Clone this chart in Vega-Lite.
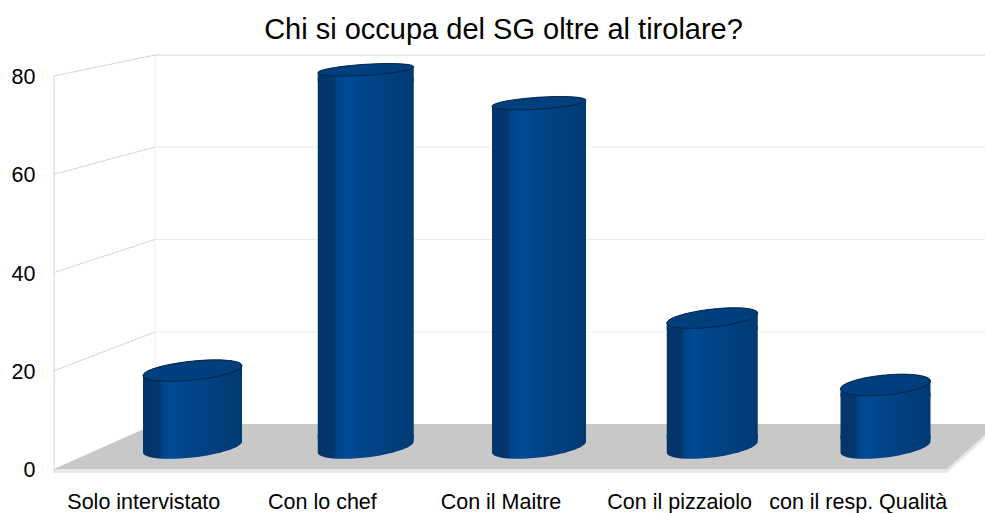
{
"$schema":"https://vega.github.io/schema/vega-lite/v6.json",
"width":893,"height":393,
"autosize":{"type":"none"},
"padding":{"left":54,"top":76,"right":38,"bottom":44},
"background":"white",
"config":{"view":{"stroke":null},"font":"Liberation Sans"},
"title":{"text":"Chi si occupa del SG oltre al tirolare?","font":"Liberation Sans","fontSize":29,"fontWeight":"normal","color":"#000000","offset":8,"dx":3},
"resolve":{"scale":{"x":"independent","y":"independent"},"axis":{"x":"independent","y":"independent"}},
"layer":[
{
 "encoding":{
  "x":{"field":"x","type":"quantitative","scale":{"domain":[0,5],"nice":false,"zero":false},
   "axis":{"values":[0.5,1.5,2.5,3.5,4.5],"labelExpr":"['Solo intervistato','Con lo chef','Con il Maitre','Con il pizzaiolo','con il resp. Qualità'][floor(datum.value)]","title":null,"grid":false,"domain":false,"ticks":false,"labelFontSize":21.5,"labelFont":"Liberation Sans","labelColor":"#000000","labelPadding":22,"labelAngle":0,"labelFlush":false,"labelBound":false,"labelOverlap":false}},
  "y":{"field":"y","type":"quantitative","scale":{"domain":[0,80],"nice":false,"zero":false},
   "axis":{"values":[0,20,40,60,80],"title":null,"grid":false,"domain":false,"ticks":false,"labelFontSize":21.5,"labelFont":"Liberation Sans","labelColor":"#000000","labelPadding":19,"labelOffset":1.5}}
 },
 "layer":[
  {"data":{"values":[
    {"x":0,"y":0,"y2":-0.75},{"x":5,"y":0,"y2":-0.75},{"x":5.213,"y":6.92,"y2":6.2}
   ]},
   "mark":{"type":"area","orient":"vertical","color":"#e8e8e8","clip":false},
   "encoding":{"y2":{"field":"y2"}}},
  {"data":{"values":[
    {"kind":"wall","line":"v0","x":0,"y":-0.75},{"kind":"wall","line":"v0","x":0,"y":80},
    {"kind":"back","line":"v1","x":0.566,"y":9.16},{"kind":"back","line":"v1","x":0.566,"y":84.27},
    {"kind":"wall","line":"d20","x":0,"y":20},{"kind":"wall","line":"d20","x":0.566,"y":27.89},
    {"kind":"wall","line":"d40","x":0,"y":40},{"kind":"wall","line":"d40","x":0.566,"y":46.72},
    {"kind":"wall","line":"d60","x":0,"y":60},{"kind":"wall","line":"d60","x":0.566,"y":65.55},
    {"kind":"wall","line":"d80","x":0,"y":80},{"kind":"wall","line":"d80","x":0.566,"y":84.27},
    {"kind":"back","line":"h20","x":0.566,"y":27.89},{"kind":"back","line":"h20","x":5.213,"y":27.89},
    {"kind":"back","line":"h40","x":0.566,"y":46.72},{"kind":"back","line":"h40","x":5.213,"y":46.72},
    {"kind":"back","line":"h60","x":0.566,"y":65.55},{"kind":"back","line":"h60","x":5.213,"y":65.55},
    {"kind":"wall","line":"h80","x":0.566,"y":84.27},{"kind":"wall","line":"h80","x":5.213,"y":84.27}
   ]},
   "mark":{"type":"line","strokeWidth":1,"clip":false},
   "encoding":{"detail":{"field":"line"},
    "color":{"field":"kind","type":"nominal","scale":{"domain":["wall","back"],"range":["#d6d6d6","#ececec"]},"legend":null}}},
  {"data":{"values":[
    {"x":0,"y":0,"y2":0},{"x":0.566,"y":9.16,"y2":0},{"x":5,"y":9.16,"y2":0},{"x":5.213,"y":9.16,"y2":6.92}
   ]},
   "mark":{"type":"area","orient":"vertical","color":"#c8c8c8","clip":false},
   "encoding":{"y2":{"field":"y2"}}}
 ]
},
{
 "data":{"values":[
  {"category":"Solo intervistato","value":16},
  {"category":"Con lo chef","value":79},
  {"category":"Con il Maitre","value":72},
  {"category":"Con il pizzaiolo","value":27},
  {"category":"con il resp. Qualità","value":13}
 ]},
 "encoding":{
  "x":{"field":"category","type":"nominal","sort":null,"scale":{"type":"point","range":[138.5,831.5],"padding":0},"axis":null},
  "y":{"field":"value","type":"quantitative","scale":{"domain":[-4.607,77.696],"nice":false,"zero":false},"axis":null}
 },
 "resolve":{"scale":{"shape":"independent"}},
 "layer":[
  {"mark":{"type":"point","filled":true,"opacity":1,"size":4,"fill":{"gradient":"linear","x1":0,"y1":0,"x2":1,"y2":0,"stops":[{"offset":0,"color":"#03346a"},{"offset":0.17,"color":"#03376e"},{"offset":0.19,"color":"#004385"},{"offset":0.3,"color":"#004a96"},{"offset":0.46,"color":"#00458a"},{"offset":1,"color":"#013a72"}]}},
   "encoding":{"y":{"datum":0},
    "shape":{"field":"category","type":"nominal","legend":null,"scale":{"domain":["Solo intervistato","Con lo chef","Con il Maitre","Con il pizzaiolo","con il resp. Qualità"],"range":[
     "M-49.5,-12 L49.5,-12 L49.5,-5.5 C49.5,0.3 27.34,7.46 0,10.5 C-27.34,13.54 -49.5,11.3 -49.5,5.5 Z",
     "M-48,-12 L48,-12 L48,-5.5 C48,0.3 26.51,7.46 0,10.5 C-26.51,13.54 -48,11.3 -48,5.5 Z",
     "M-47,-12 L47,-12 L47,-5.5 C47,0.3 25.96,7.46 0,10.5 C-25.96,13.54 -47,11.3 -47,5.5 Z",
     "M-45.5,-12 L45.5,-12 L45.5,-5.5 C45.5,0.3 25.13,7.46 0,10.5 C-25.13,13.54 -45.5,11.3 -45.5,5.5 Z",
     "M-45,-12 L45,-12 L45,-5.5 C45,0.3 24.85,7.46 0,10.5 C-24.85,13.54 -45,11.3 -45,5.5 Z"
    ]}}}},
  {"mark":{"type":"bar","yOffset":8,"y2Offset":-8,"fill":{"gradient":"linear","x1":0,"y1":0,"x2":1,"y2":0,"stops":[{"offset":0,"color":"#03346a"},{"offset":0.17,"color":"#03376e"},{"offset":0.19,"color":"#004385"},{"offset":0.3,"color":"#004a96"},{"offset":0.46,"color":"#00458a"},{"offset":1,"color":"#013a72"}]}},
   "encoding":{"y2":{"datum":0},
    "size":{"field":"category","type":"nominal","legend":null,"scale":{"type":"ordinal","domain":["Solo intervistato","Con lo chef","Con il Maitre","Con il pizzaiolo","con il resp. Qualità"],"range":[99,96,94,91,90]}}}},
  {"mark":{"type":"point","filled":true,"opacity":1,"size":4,"fill":{"gradient":"linear","x1":0,"y1":0,"x2":1,"y2":0,"stops":[{"offset":0,"color":"#03346a"},{"offset":0.17,"color":"#03376e"},{"offset":0.19,"color":"#004385"},{"offset":0.3,"color":"#004a96"},{"offset":0.46,"color":"#00458a"},{"offset":1,"color":"#013a72"}]}},
   "encoding":{
    "shape":{"field":"category","type":"nominal","legend":null,"scale":{"domain":["Solo intervistato","Con lo chef","Con il Maitre","Con il pizzaiolo","con il resp. Qualità"],"range":[
     "M-49.5,5 C-49.5,-0.25 -27.34,-6.74 0,-9.5 C27.34,-12.26 49.5,-10.25 49.5,-5 L49.5,12 L-49.5,12 Z",
     "M-48,3 C-48,-0.04 -26.51,-3.84 0,-5.5 C26.51,-7.16 48,-6.04 48,-3 L48,12 L-48,12 Z",
     "M-47,3 C-47,-0.31 -25.96,-4.34 0,-6 C25.96,-7.66 47,-6.31 47,-3 L47,12 L-47,12 Z",
     "M-45.5,5 C-45.5,0.03 -25.13,-6.24 0,-9 C25.13,-11.76 45.5,-9.97 45.5,-5 L45.5,12 L-45.5,12 Z",
     "M-45,4 C-45,-1.52 -24.85,-7.79 0,-10 C24.85,-12.21 45,-9.52 45,-4 L45,12 L-45,12 Z"
    ]}}}},
  {"mark":{"type":"point","filled":true,"opacity":1,"size":4,"fill":"#003f7d","stroke":"#06213f","strokeWidth":0.9},
   "encoding":{
    "shape":{"field":"category","type":"nominal","legend":null,"scale":{"domain":["Solo intervistato","Con lo chef","Con il Maitre","Con il pizzaiolo","con il resp. Qualità"],"range":[
     "M-49.5,5 C-49.5,-0.25 -27.34,-6.74 0,-9.5 C27.34,-12.26 49.5,-10.25 49.5,-5 C49.5,0.25 27.34,6.74 0,9.5 C-27.34,12.26 -49.5,10.25 -49.5,5 Z",
     "M-48,3 C-48,-0.04 -26.51,-3.84 0,-5.5 C26.51,-7.16 48,-6.04 48,-3 C48,0.04 26.51,3.84 0,5.5 C-26.51,7.16 -48,6.04 -48,3 Z",
     "M-47,3 C-47,-0.31 -25.96,-4.34 0,-6 C25.96,-7.66 47,-6.31 47,-3 C47,0.31 25.96,4.34 0,6 C-25.96,7.66 -47,6.31 -47,3 Z",
     "M-45.5,5 C-45.5,0.03 -25.13,-6.24 0,-9 C25.13,-11.76 45.5,-9.97 45.5,-5 C45.5,-0.03 25.13,6.24 0,9 C-25.13,11.76 -45.5,9.97 -45.5,5 Z",
     "M-45,4 C-45,-1.52 -24.85,-7.79 0,-10 C24.85,-12.21 45,-9.52 45,-4 C45,1.52 24.85,7.79 0,10 C-24.85,12.21 -45,9.52 -45,4 Z"
    ]}}}}
 ]
}
]
}
